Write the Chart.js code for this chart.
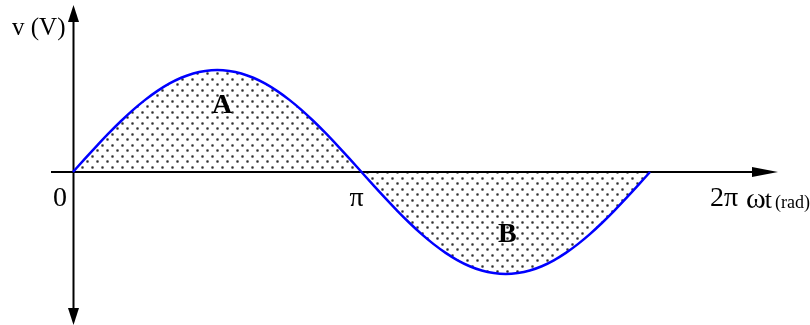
<!DOCTYPE html>
<html>
<head>
<meta charset="utf-8">
<script src="https://cdn.jsdelivr.net/npm/chart.js@4/dist/chart.umd.min.js"></script>
<style>
  html, body { margin: 0; padding: 0; background: #ffffff; }
  #wrap { width: 810px; height: 325px; }
</style>
</head>
<body>
<div id="wrap"><canvas id="c" width="810" height="325"></canvas></div>
<script>
// Phase angle ωt in degrees (0 … 360 = 0 … 2π), sampled every 7.5°
const angleDeg = [
  0, 7.5, 15, 22.5, 30, 37.5, 45, 52.5, 60, 67.5, 75, 82.5, 90,
  97.5, 105, 112.5, 120, 127.5, 135, 142.5, 150, 157.5, 165, 172.5, 180,
  187.5, 195, 202.5, 210, 217.5, 225, 232.5, 240, 247.5, 255, 262.5, 270,
  277.5, 285, 292.5, 300, 307.5, 315, 322.5, 330, 337.5, 345, 352.5, 360
];
// Instantaneous voltage v (normalised to the peak value)
const voltage = [
  0, 0.131, 0.259, 0.383, 0.500, 0.609, 0.707, 0.793, 0.866, 0.924, 0.966, 0.991, 1.000,
  0.991, 0.966, 0.924, 0.866, 0.793, 0.707, 0.609, 0.500, 0.383, 0.259, 0.131, 0,
  -0.131, -0.259, -0.383, -0.500, -0.609, -0.707, -0.793, -0.866, -0.924, -0.966, -0.991, -1.000,
  -0.991, -0.966, -0.924, -0.866, -0.793, -0.707, -0.609, -0.500, -0.383, -0.259, -0.131, 0
];
// Axis tick labels at 0, π, 2π
const tickAngles = [0, 180, 360];
const tickLabels = ['0', 'π', '2π'];
// Area labels: half-cycle names and where they sit (angle, v)
const areaNames = ['A', 'B'];
const areaAngles = [93, 271];
const areaLevels = [0.58, -0.69];

// Stippled fill: a staggered grid of soft grey dots
function makeStipple() {
  const t = document.createElement('canvas');
  t.width = 10; t.height = 11;
  const g = t.getContext('2d');
  function dot(cx, cy) {
    g.fillStyle = '#b8b8b8';
    g.fillRect(cx - 1, cy - 1, 3, 3);
    g.fillStyle = '#707070';
    g.fillRect(cx - 1, cy, 3, 1);
    g.fillRect(cx, cy - 1, 1, 3);
    g.fillStyle = '#303030';
    g.fillRect(cx, cy, 1, 1);
  }
  dot(2, 2);
  dot(7, 7);
  return g.createPattern(t, 'repeat');
}

const SERIF = '"Liberation Serif", "Times New Roman", serif';

const axesPlugin = {
  id: 'axesArrows',
  beforeDatasetsDraw(chart) {
    const { ctx } = chart;
    const xs = chart.scales.x, ys = chart.scales.y;
    const x0 = Math.round(xs.getPixelForValue(0)) + 0.5;
    const y0 = Math.round(ys.getPixelForValue(0));
    ctx.save();
    ctx.strokeStyle = '#000';
    ctx.fillStyle = '#000';
    ctx.lineWidth = 2;
    // horizontal axis
    ctx.beginPath();
    ctx.moveTo(51, y0);
    ctx.lineTo(755, y0);
    ctx.stroke();
    ctx.beginPath();
    ctx.moveTo(752, y0 - 5);
    ctx.lineTo(778, y0);
    ctx.lineTo(752, y0 + 5);
    ctx.closePath();
    ctx.fill();
    // vertical axis
    ctx.beginPath();
    ctx.moveTo(x0, 18);
    ctx.lineTo(x0, 312);
    ctx.stroke();
    ctx.beginPath();
    ctx.moveTo(x0 - 5.5, 22);
    ctx.lineTo(x0, 5);
    ctx.lineTo(x0 + 5.5, 22);
    ctx.closePath();
    ctx.fill();
    ctx.beginPath();
    ctx.moveTo(x0 - 5.5, 308);
    ctx.lineTo(x0, 325);
    ctx.lineTo(x0 + 5.5, 308);
    ctx.closePath();
    ctx.fill();
    ctx.restore();
  },
  afterDraw(chart) {
    const { ctx } = chart;
    const xs = chart.scales.x, ys = chart.scales.y;
    const y0 = ys.getPixelForValue(0);
    ctx.save();
    ctx.fillStyle = '#000';
    ctx.textBaseline = 'alphabetic';
    // axis title
    ctx.font = '25px ' + SERIF;
    ctx.textAlign = 'left';
    ctx.fillText('v (V)', 12, 35);
    // tick labels
    const tickOffsets = [-13, -5, 74];
    ctx.font = '28px ' + SERIF;
    ctx.textAlign = 'center';
    tickAngles.forEach((a, i) => {
      ctx.fillText(tickLabels[i], xs.getPixelForValue(a) + tickOffsets[i], y0 + 34);
    });
    // x-axis title: ωt (rad)
    ctx.textAlign = 'left';
    ctx.font = '30px ' + SERIF;
    let tx = 746;
    ctx.fillText('ω', tx, y0 + 36);
    tx += ctx.measureText('ω').width - 1;
    ctx.font = '26px ' + SERIF;
    ctx.fillText('t', tx, y0 + 36);
    tx += ctx.measureText('t').width + 3;
    ctx.font = '18px ' + SERIF;
    ctx.fillText('(rad)', tx, y0 + 36);
    // half-cycle labels
    ctx.font = 'bold 28px ' + SERIF;
    ctx.textAlign = 'center';
    areaNames.forEach((n, i) => {
      ctx.fillText(n, xs.getPixelForValue(areaAngles[i]), ys.getPixelForValue(areaLevels[i]));
    });
    ctx.restore();
  }
};

new Chart(document.getElementById('c'), {
  type: 'line',
  data: {
    datasets: [{
      data: angleDeg.map((a, i) => ({ x: a, y: voltage[i] })),
      borderColor: '#0000ff',
      borderWidth: 2.5,
      pointRadius: 0,
      cubicInterpolationMode: 'monotone',
      fill: 'origin',
      backgroundColor: makeStipple(),
      clip: false
    }]
  },
  options: {
    responsive: false,
    animation: false,
    events: [],
    layout: { padding: { left: 73, right: 160, top: 70, bottom: 51 } },
    scales: {
      x: { type: 'linear', min: 0, max: 360, display: false },
      y: { min: -1, max: 1, display: false }
    },
    plugins: {
      legend: { display: false },
      tooltip: { enabled: false },
      filler: { drawTime: 'beforeDraw' }
    }
  },
  plugins: [axesPlugin]
});
</script>
</body>
</html>
